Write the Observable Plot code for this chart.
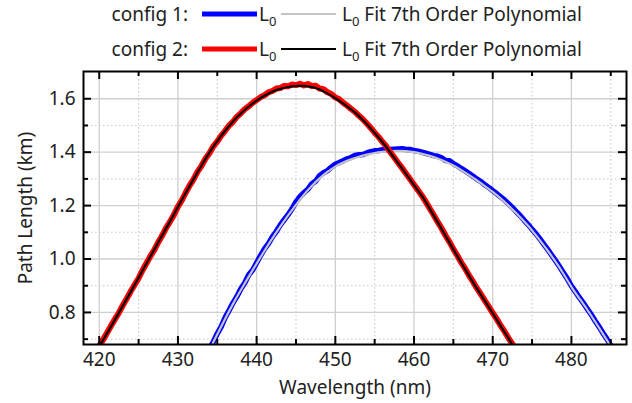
<!DOCTYPE html>
<html>
<head>
<meta charset="utf-8">
<script src="https://cdn.jsdelivr.net/npm/d3@7"></script>
<script src="https://cdn.jsdelivr.net/npm/@observablehq/plot@0.6"></script>
<style>
  body { margin: 0; background: #fff; }
  #chart { width: 632px; height: 403px; position: relative; font-family: "Noto Sans", sans-serif; }
  #legend { display: block; }
</style>
</head>
<body>
<div id="chart"></div>
<script>
// ---- data ----
const xMajor = [420, 430, 440, 450, 460, 470, 480];
const xMinor = [425, 435, 445, 455, 465, 475, 485];
const yMajor = [0.8, 1.0, 1.2, 1.4, 1.6];
const yMinor = [0.7, 0.9, 1.1, 1.3, 1.5];
const yTickLabels = ["0.8", "1.0", "1.2", "1.4", "1.6"];

// config 1: measured L0 (blue)
const c1Wavelength = [434,434.5,435,435.5,436,436.5,437,437.5,438,438.5,439,439.5,440,440.5,441,441.5,442,442.5,443,443.5,444,444.5,445,445.5,446,446.5,447,447.5,448,448.5,449,449.5,450,450.5,451,451.5,452,452.5,453,453.5,454,454.5,455,455.5,456,456.5,457,457.5,458,458.5,459,459.5,460,460.5,461,461.5,462,462.5,463,463.5,464,464.5,465,465.5,466,466.5,467,467.5,468,468.5,469,469.5,470,470.5,471,471.5,472,472.5,473,473.5,474,474.5,475,475.5,476,476.5,477,477.5,478,478.5,479,479.5,480,480.5,481,481.5,482,482.5,483,483.5,484,484.5,485,485.5];
const c1L0 = [0.664,0.690,0.721,0.747,0.781,0.808,0.836,0.860,0.889,0.911,0.941,0.959,0.986,1.013,1.038,1.058,1.083,1.103,1.127,1.147,1.166,1.188,1.214,1.233,1.248,1.261,1.281,1.292,1.312,1.323,1.331,1.344,1.355,1.361,1.368,1.375,1.380,1.388,1.390,1.391,1.397,1.402,1.405,1.406,1.409,1.410,1.410,1.411,1.412,1.413,1.410,1.410,1.406,1.404,1.400,1.396,1.392,1.387,1.385,1.379,1.369,1.368,1.357,1.349,1.339,1.330,1.320,1.310,1.299,1.290,1.278,1.268,1.256,1.245,1.233,1.221,1.207,1.193,1.177,1.162,1.145,1.129,1.111,1.094,1.075,1.055,1.035,1.014,0.993,0.971,0.948,0.925,0.899,0.878,0.856,0.836,0.814,0.793,0.769,0.747,0.723,0.701,0.676,0.654];

// config 1: 7th order polynomial fit (light gray)
const c1FitWavelength = [434,435,436,437,438,439,440,441,442,443,444,445,446,447,448,449,450,451,452,453,454,455,456,457,458,459,460,461,462,463,464,465,466,467,468,469,470,471,472,473,474,475,476,477,478,479,480,481,482,483,484,485,486];
const c1Fit = [0.660,0.718,0.776,0.832,0.884,0.934,0.983,1.031,1.077,1.121,1.163,1.203,1.240,1.273,1.302,1.326,1.346,1.361,1.373,1.383,1.391,1.397,1.401,1.404,1.405,1.404,1.400,1.394,1.386,1.376,1.364,1.350,1.333,1.314,1.294,1.273,1.251,1.227,1.200,1.171,1.140,1.107,1.070,1.031,0.989,0.944,0.896,0.853,0.811,0.766,0.720,0.673,0.627];

// config 2: measured L0 (red)
const c2Wavelength = [420,420.5,421,421.5,422,422.5,423,423.5,424,424.5,425,425.5,426,426.5,427,427.5,428,428.5,429,429.5,430,430.5,431,431.5,432,432.5,433,433.5,434,434.5,435,435.5,436,436.5,437,437.5,438,438.5,439,439.5,440,440.5,441,441.5,442,442.5,443,443.5,444,444.5,445,445.5,446,446.5,447,447.5,448,448.5,449,449.5,450,450.5,451,451.5,452,452.5,453,453.5,454,454.5,455,455.5,456,456.5,457,457.5,458,458.5,459,459.5,460,460.5,461,461.5,462,462.5,463,463.5,464,464.5,465,465.5,466,466.5,467,467.5,468,468.5,469,469.5,470,470.5,471,471.5,472,472.5,473];
const c2L0 = [0.675,0.698,0.724,0.750,0.775,0.799,0.827,0.852,0.879,0.904,0.928,0.958,0.984,1.011,1.034,1.063,1.088,1.117,1.140,1.166,1.196,1.220,1.249,1.276,1.299,1.327,1.349,1.376,1.396,1.422,1.440,1.462,1.480,1.500,1.514,1.533,1.546,1.561,1.572,1.585,1.595,1.606,1.613,1.624,1.629,1.638,1.640,1.648,1.647,1.653,1.651,1.656,1.650,1.655,1.648,1.649,1.638,1.636,1.624,1.618,1.605,1.598,1.585,1.574,1.562,1.551,1.536,1.523,1.507,1.491,1.473,1.457,1.438,1.421,1.399,1.380,1.359,1.340,1.319,1.299,1.278,1.258,1.237,1.214,1.189,1.165,1.139,1.115,1.088,1.064,1.037,1.013,0.987,0.964,0.938,0.915,0.890,0.868,0.844,0.822,0.798,0.776,0.751,0.729,0.704,0.682,0.657];

// config 2: 7th order polynomial fit (black)
const c2FitWavelength = [420,421,422,423,424,425,426,427,428,429,430,431,432,433,434,435,436,437,438,439,440,441,442,443,444,445,446,447,448,449,450,451,452,453,454,455,456,457,458,459,460,461,462,463,464,465,466,467,468,469,470,471,472,473];
const c2Fit = [0.672,0.722,0.773,0.825,0.877,0.930,0.983,1.036,1.089,1.141,1.195,1.248,1.300,1.350,1.398,1.441,1.480,1.515,1.545,1.571,1.593,1.611,1.626,1.637,1.644,1.648,1.648,1.644,1.635,1.620,1.602,1.582,1.560,1.535,1.505,1.472,1.437,1.398,1.358,1.318,1.277,1.236,1.188,1.138,1.087,1.036,0.986,0.937,0.889,0.843,0.797,0.750,0.703,0.656];

const xTitle = "Wavelength (nm)";
const yTitle = "Path Length (km)";

// ---- build ----
const zip = (xs, ys) => xs.map((x, i) => ({x, y: ys[i]}));
const d1 = zip(c1Wavelength, c1L0);
const f1 = zip(c1FitWavelength, c1Fit);
const d2 = zip(c2Wavelength, c2L0);
const f2 = zip(c2FitWavelength, c2Fit);

const FONT = '"Noto Sans", sans-serif';
const FS = 19;
const LEG_H = 66;
const W = 632, H = 403 - LEG_H;
const mT = 5, mB = 59, mL = 83, mR = 6;
const innerH = H - mT - mB, innerW = W - mL - mR;
const MAJ = 8, MIN = 5;

// legend (SVG above plot)
const legendRows = [
  {label: "config 1:", data: "blue", fit: "#c4c4c4"},
  {label: "config 2:", data: "red", fit: "black"}
];
const ns = "http://www.w3.org/2000/svg";
const leg = document.createElementNS(ns, "svg");
leg.setAttribute("width", W); leg.setAttribute("height", LEG_H); leg.setAttribute("id", "legend");
leg.style.fontFamily = FONT;
legendRows.forEach((r, i) => {
  const cy = 14 + i * 35;
  leg.insertAdjacentHTML("beforeend",
    `<text x="188" y="${cy}" dy="0.36em" text-anchor="end" font-size="${FS}" fill="#222">${r.label}</text>
     <line x1="202" x2="257" y1="${cy}" y2="${cy}" stroke="${r.data}" stroke-width="5"/>
     <text x="259" y="${cy}" dy="0.36em" font-size="${FS}" fill="#222">L<tspan dy="5" font-size="13">0</tspan></text>
     <line x1="281" x2="336" y1="${cy}" y2="${cy}" stroke="${r.fit}" stroke-width="2"/>
     <text x="342" y="${cy}" dy="0.36em" font-size="${FS}" fill="#222">L<tspan dy="5" font-size="13">0</tspan><tspan dy="-5"> Fit 7th Order Polynomial</tspan></text>`);
});

const plot = Plot.plot({
  width: W, height: H,
  marginTop: mT, marginBottom: mB, marginLeft: mL, marginRight: mR,
  style: {fontFamily: FONT, fontSize: FS + "px", color: "#222", background: "white"},
  x: {domain: [418, 487], label: null},
  y: {domain: [0.68, 1.702], label: null},
  marks: [
    Plot.gridX(xMinor, {stroke: "#c8c8c8", strokeOpacity: 1, strokeDasharray: "1.5,2.5"}),
    Plot.gridY(yMinor, {stroke: "#c8c8c8", strokeOpacity: 1, strokeDasharray: "1.5,2.5"}),
    Plot.gridX(xMajor, {stroke: "#cfcfcf", strokeOpacity: 1, strokeWidth: 1.3}),
    Plot.gridY(yMajor, {stroke: "#cfcfcf", strokeOpacity: 1, strokeWidth: 1.3}),
    Plot.line(d1, {x: "x", y: "y", stroke: "blue", strokeWidth: 5.5, clip: true}),
    Plot.line(f1, {x: "x", y: "y", stroke: "#c4c4c4", strokeWidth: 2.2, curve: "natural", clip: true}),
    Plot.line(d2, {x: "x", y: "y", stroke: "red", strokeWidth: 6, clip: true}),
    Plot.line(f2, {x: "x", y: "y", stroke: "black", strokeWidth: 2.2, curve: "natural", clip: true}),
    // inward ticks
    Plot.tickX(xMajor, {x: d => d, stroke: "black", strokeWidth: 2, insetTop: innerH - MAJ}),
    Plot.tickX(xMajor, {x: d => d, stroke: "black", strokeWidth: 2, insetBottom: innerH - MAJ}),
    Plot.tickX(xMinor, {x: d => d, stroke: "black", strokeWidth: 2, insetTop: innerH - MIN}),
    Plot.tickX(xMinor, {x: d => d, stroke: "black", strokeWidth: 2, insetBottom: innerH - MIN}),
    Plot.tickY(yMajor, {y: d => d, stroke: "black", strokeWidth: 2, insetRight: innerW - MAJ}),
    Plot.tickY(yMajor, {y: d => d, stroke: "black", strokeWidth: 2, insetLeft: innerW - MAJ}),
    Plot.tickY(yMinor, {y: d => d, stroke: "black", strokeWidth: 2, insetRight: innerW - MIN}),
    Plot.tickY(yMinor, {y: d => d, stroke: "black", strokeWidth: 2, insetLeft: innerW - MIN}),
    Plot.axisX(xMajor, {anchor: "bottom", tickSize: 0, tickPadding: 8, tickFormat: d => String(d), label: null}),
    Plot.axisY(yMajor, {anchor: "left", tickSize: 0, tickPadding: 8, tickFormat: (d, i) => yTickLabels[i], label: null}),
    Plot.frame({stroke: "black", strokeWidth: 2}),
    Plot.text([xTitle], {text: d => d, frameAnchor: "bottom", textAnchor: "middle", lineAnchor: "middle", dy: 43, fontSize: FS, fill: "#222"}),
    Plot.text([yTitle], {text: d => d, frameAnchor: "left", textAnchor: "middle", lineAnchor: "middle", dx: -58, rotate: -90, fontSize: FS, fill: "#222"})
  ]
});

const chart = document.getElementById("chart");
chart.appendChild(leg);
chart.appendChild(plot);
</script>
</body>
</html>
